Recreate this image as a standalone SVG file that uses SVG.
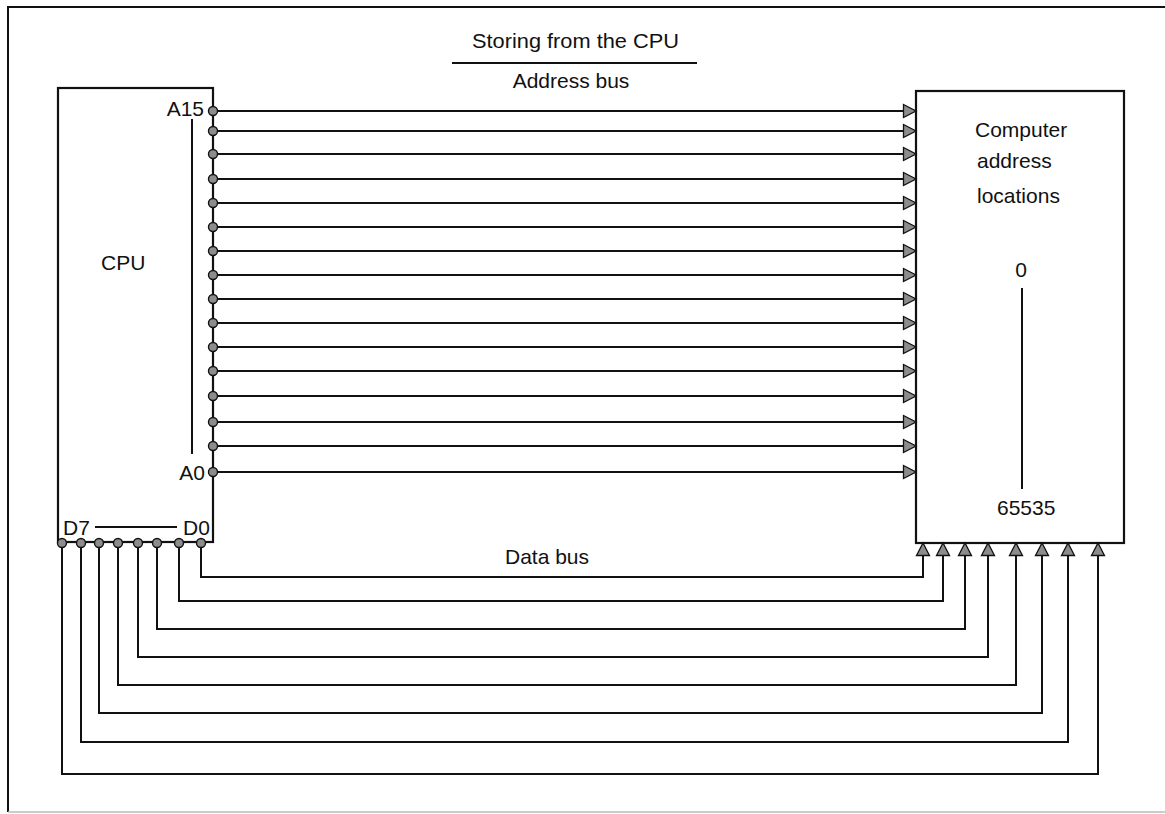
<svg xmlns="http://www.w3.org/2000/svg" width="1165" height="814" viewBox="0 0 1165 814">
<style>
.t{font-family:"Liberation Sans",Arial,sans-serif;font-size:21px;fill:#111}
.ln{fill:none;stroke:#111;stroke-width:2}
.box{fill:#fff;stroke:#111;stroke-width:2.2}
.pin{fill:#8c8c8c;stroke:#111;stroke-width:1.4}
</style>
<defs>
<marker id="arr" markerWidth="18" markerHeight="18" refX="14" refY="8" orient="auto" markerUnits="userSpaceOnUse">
<path d="M1.5,1.5 L14,8 L1.5,14.5 Z" fill="#8c8c8c" stroke="#111" stroke-width="1.3"/>
</marker>
</defs>
<rect width="1165" height="814" fill="#fff"/>
<g id="frame">
<path d="M1165,7 H8 V812" fill="none" stroke="#111" stroke-width="2"/>
<path d="M8,812 H1165" fill="none" stroke="#bbb" stroke-width="1.5"/>
</g>
<g id="title">
<text class="t" x="472" y="48" textLength="207" lengthAdjust="spacingAndGlyphs">Storing from the CPU</text>
<line x1="452" y1="63" x2="697" y2="63" stroke="#111" stroke-width="2"/>
<text class="t" x="571" y="88" font-size="22" text-anchor="middle">Address bus</text>
<text class="t" x="505" y="564">Data bus</text>
</g>
<g id="cpu">
<rect class="box" x="58" y="88" width="155" height="454"/>
<text class="t" x="101" y="270">CPU</text>
<text class="t" x="204" y="116" text-anchor="end">A15</text>
<text class="t" x="205" y="480" text-anchor="end">A0</text>
<line class="ln" x1="192" y1="119" x2="192" y2="454"/>
<text class="t" x="63" y="535">D7</text>
<text class="t" x="183" y="535">D0</text>
<line class="ln" x1="95" y1="527" x2="177" y2="527"/>
</g>
<g id="memory">
<rect class="box" x="916" y="91" width="208" height="452"/>
<text class="t" x="975" y="137">Computer</text>
<text class="t" x="977" y="168">address</text>
<text class="t" x="977" y="203">locations</text>
<text class="t" x="1021" y="277" text-anchor="middle">0</text>
<line class="ln" x1="1022" y1="288" x2="1022" y2="489"/>
<text class="t" x="997" y="515">65535</text>
</g>
<g id="connectors">
<g id="address-bus" class="ln" marker-end="url(#arr)">
<path d="M213,111 H916"/>
<path d="M213,131 H916"/>
<path d="M213,154 H916"/>
<path d="M213,179 H916"/>
<path d="M213,203 H916"/>
<path d="M213,227 H916"/>
<path d="M213,251 H916"/>
<path d="M213,275 H916"/>
<path d="M213,299 H916"/>
<path d="M213,323 H916"/>
<path d="M213,347 H916"/>
<path d="M213,371 H916"/>
<path d="M213,396 H916"/>
<path d="M213,422 H916"/>
<path d="M213,446 H916"/>
<path d="M213,472 H916"/>
</g>
<g id="data-bus" class="ln" marker-end="url(#arr)">
<path d="M201,543 V577 H923 V543"/>
<path d="M179,543 V601 H943 V543"/>
<path d="M157,543 V629 H965 V543"/>
<path d="M138,543 V657 H988 V543"/>
<path d="M118,543 V685 H1016 V543"/>
<path d="M99,543 V713 H1042 V543"/>
<path d="M81,543 V742 H1068 V543"/>
<path d="M62,543 V774 H1098 V543"/>
</g>
<g id="pins" class="pin">
<circle cx="213" cy="111" r="4.5"/><circle cx="213" cy="131" r="4.5"/><circle cx="213" cy="154" r="4.5"/><circle cx="213" cy="179" r="4.5"/>
<circle cx="213" cy="203" r="4.5"/><circle cx="213" cy="227" r="4.5"/><circle cx="213" cy="251" r="4.5"/><circle cx="213" cy="275" r="4.5"/>
<circle cx="213" cy="299" r="4.5"/><circle cx="213" cy="323" r="4.5"/><circle cx="213" cy="347" r="4.5"/><circle cx="213" cy="371" r="4.5"/>
<circle cx="213" cy="396" r="4.5"/><circle cx="213" cy="422" r="4.5"/><circle cx="213" cy="446" r="4.5"/><circle cx="213" cy="472" r="4.5"/>
<circle cx="62" cy="543" r="4.5"/><circle cx="81" cy="543" r="4.5"/><circle cx="99" cy="543" r="4.5"/><circle cx="118" cy="543" r="4.5"/>
<circle cx="138" cy="543" r="4.5"/><circle cx="157" cy="543" r="4.5"/><circle cx="179" cy="543" r="4.5"/><circle cx="201" cy="543" r="4.5"/>
</g>
</g>
</svg>
